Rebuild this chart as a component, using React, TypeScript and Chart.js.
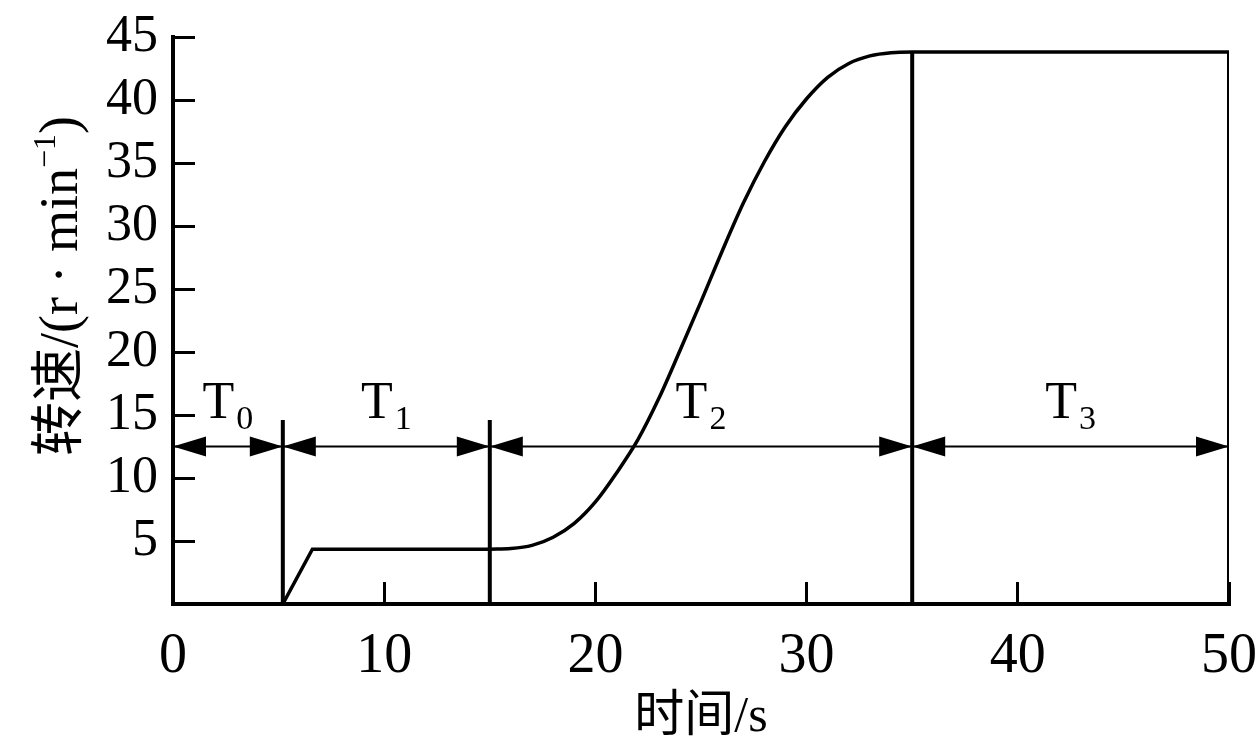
import React, { useEffect, useRef } from "react";
import { Chart, registerables } from "chart.js";

Chart.register(...registerables);

// ---- data ----
const startX = [5.2, 6.6, 15];
const startY = [0, 4.35, 4.35];
const riseX = [15, 16, 17, 18, 19, 20, 21, 22, 23, 24, 25, 26, 27, 28, 29, 30, 31, 32, 33, 34, 35, 50];
const riseY = [4.35, 4.4, 4.65, 5.3, 6.4, 8.1, 10.4, 13.0, 16.3, 20.1, 24.0, 28.0, 31.8, 35.1, 37.9, 40.1, 41.8, 42.9, 43.5, 43.75, 43.8, 43.8];
const dividerX = [5.2, 15, 35, 50];
const dividerTop = [14.6, 14.6, 43.8, 43.8];
const phaseBounds = [0, 5.2, 15, 35, 50];
const phaseMain = ["T", "T", "T", "T"];
const phaseSub = ["0", "1", "2", "3"];
const arrowLevel = 12.5;
const xTicks = [0, 10, 20, 30, 40, 50];
const yTicks = [5, 10, 15, 20, 25, 30, 35, 40, 45];
const xTitle = "时间/s";
const yTitleMain = "转速/(r · min";
const yTitleSup = "−1";
const yTitleEnd = ")";

const SERIF = "'Liberation Serif', 'Noto Sans CJK SC', serif";

const overlayPlugin = {
  id: "overlay",
  afterDatasetsDraw(chart: any) {
    const ctx = chart.ctx;
    const xs = chart.scales.x;
    const ys = chart.scales.y;
    const ay = ys.getPixelForValue(arrowLevel);
    ctx.save();
    ctx.fillStyle = "#000";
    const L = 33;
    const H = 10;
    for (let i = 0; i < phaseBounds.length - 1; i++) {
      const a = xs.getPixelForValue(phaseBounds[i]);
      const b = xs.getPixelForValue(phaseBounds[i + 1]);
      ctx.beginPath();
      ctx.moveTo(a, ay);
      ctx.lineTo(a + L, ay - H);
      ctx.lineTo(a + L, ay + H);
      ctx.closePath();
      ctx.fill();
      ctx.beginPath();
      ctx.moveTo(b, ay);
      ctx.lineTo(b - L, ay - H);
      ctx.lineTo(b - L, ay + H);
      ctx.closePath();
      ctx.fill();
      const c = (a + b) / 2;
      ctx.font = "52px " + SERIF;
      const wm = ctx.measureText(phaseMain[i]).width;
      ctx.font = "34px " + SERIF;
      const ws = ctx.measureText(phaseSub[i]).width;
      const start = c - (wm + ws + 2) / 2;
      ctx.textAlign = "left";
      ctx.textBaseline = "alphabetic";
      ctx.font = "52px " + SERIF;
      ctx.fillText(phaseMain[i], start, ay - 29);
      ctx.font = "34px " + SERIF;
      ctx.fillText(phaseSub[i], start + wm + 2, ay - 18);
    }
    ctx.restore();

    // y axis title with superscript
    ctx.save();
    ctx.fillStyle = "#000";
    ctx.translate(77, 286);
    ctx.rotate(-Math.PI / 2);
    ctx.textBaseline = "alphabetic";
    ctx.textAlign = "left";
    ctx.font = "54px " + SERIF;
    const w1 = ctx.measureText(yTitleMain).width;
    const w3 = ctx.measureText(yTitleEnd).width;
    ctx.font = "32px " + SERIF;
    const w2 = ctx.measureText(yTitleSup).width;
    let px = -(w1 + w2 + w3) / 2;
    ctx.font = "54px " + SERIF;
    ctx.fillText(yTitleMain, px, 0);
    px += w1;
    ctx.font = "32px " + SERIF;
    ctx.fillText(yTitleSup, px, -22);
    px += w2;
    ctx.font = "54px " + SERIF;
    ctx.fillText(yTitleEnd, px, 0);
    ctx.restore();
  },
};

export default function App() {
  const ref = useRef<HTMLCanvasElement>(null);
  useEffect(() => {
    document.body.style.margin = "0";
    const lineDs = (data: any[], width: number, extra: any = {}) => ({
      data,
      borderColor: "#000",
      borderWidth: width,
      pointRadius: 0,
      fill: false,
      showLine: true,
      tension: 0,
      ...extra,
    });
    const datasets: any[] = [
      lineDs(startX.map((x, i) => ({ x, y: startY[i] })), 3.5),
      lineDs(riseX.map((x, i) => ({ x, y: riseY[i] })), 3.5, { cubicInterpolationMode: "monotone" }),
      ...dividerX.map((x, i) => lineDs([{ x, y: 0 }, { x, y: dividerTop[i] }], 4)),
      lineDs([{ x: phaseBounds[0], y: arrowLevel }, { x: phaseBounds[phaseBounds.length - 1], y: arrowLevel }], 2),
    ];
    const chart = new Chart(ref.current!, {
      type: "scatter",
      data: { datasets },
      plugins: [overlayPlugin],
      options: {
        animation: false,
        responsive: false,
        devicePixelRatio: 1,
        layout: { padding: { top: 37, right: 31, left: 0, bottom: 0 } },
        plugins: { legend: { display: false }, tooltip: { enabled: false } },
        scales: {
          x: {
            type: "linear",
            min: 0,
            max: 50,
            afterFit: (s: any) => {
              s.height = 148;
              s.paddingLeft = 0;
              s.paddingRight = 0;
              s.paddingTop = 0;
              s.paddingBottom = 0;
            },
            afterBuildTicks: (s: any) => { s.ticks = xTicks.map((v) => ({ value: v })); },
            border: { display: true, color: "#000", width: 4 },
            grid: { display: true, drawOnChartArea: false, drawTicks: true, tickLength: -22, tickWidth: 3, tickColor: "#000" },
            ticks: { color: "#000", font: { family: SERIF, size: 56 }, padding: 42, maxRotation: 0, autoSkip: false },
            title: { display: true, text: xTitle, color: "#000", font: { family: SERIF, size: 50 }, padding: { top: 0, bottom: 4 } },
          },
          y: {
            type: "linear",
            min: 0,
            max: 45,
            afterFit: (s: any) => {
              s.width = 173;
              s.paddingLeft = 0;
              s.paddingRight = 0;
              s.paddingTop = 0;
              s.paddingBottom = 0;
            },
            afterBuildTicks: (s: any) => { s.ticks = [0, ...yTicks].map((v) => ({ value: v })); },
            border: { display: true, color: "#000", width: 4 },
            grid: { display: true, drawOnChartArea: false, drawTicks: true, tickLength: -22, tickWidth: 3, tickColor: "#000" },
            ticks: {
              color: "#000",
              font: { family: SERIF, size: 52 },
              padding: 37,
              autoSkip: false,
              callback: (v: any) => (v === 0 ? "" : String(v)),
            },
          },
        },
      },
    });
    return () => chart.destroy();
  }, []);
  return <canvas ref={ref} width={1260} height={752} style={{ display: "block" }} />;
}
